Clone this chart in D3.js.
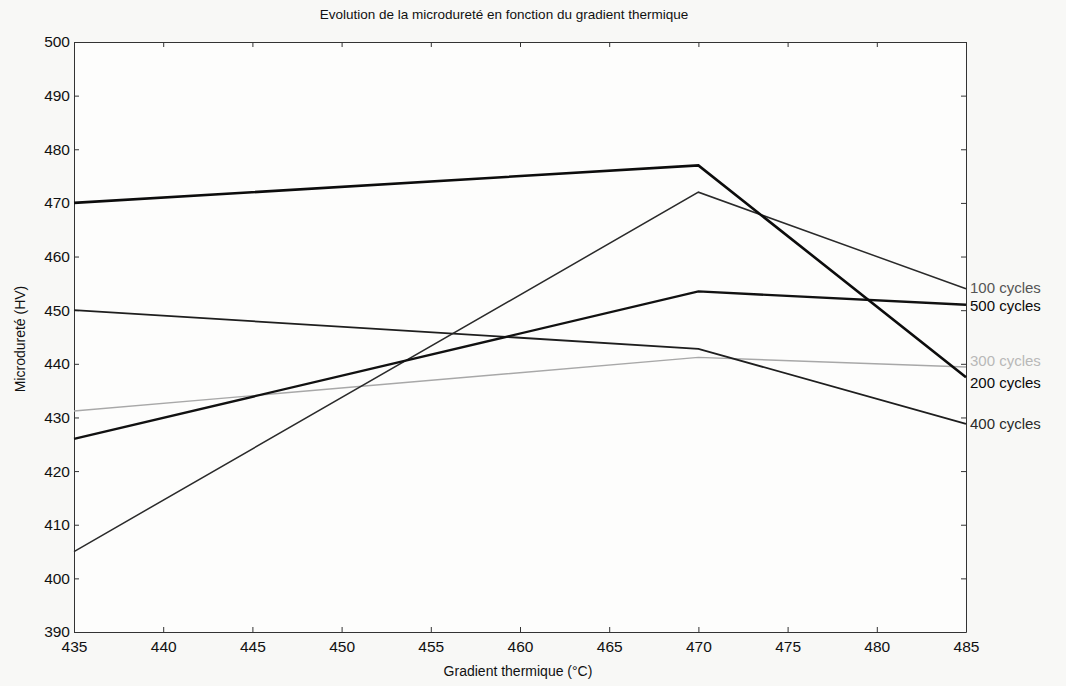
<!DOCTYPE html>
<html>
<head>
<meta charset="utf-8">
<script src="https://cdn.jsdelivr.net/npm/d3@7"></script>
<style>
  body { margin: 0; background: #f8f8f6; }
  svg { display: block; font-family: "Liberation Sans", Arial, sans-serif; }
</style>
</head>
<body>
<div id="graph"></div>
<script>
// gradient values (°C)
var gradients = [435, 470, 485];

// microhardness per cycle count
var c100 = [405, 472, 454];
var c200 = [470, 477, 437.5];
var c300 = [431.2, 441.2, 439.4];
var c400 = [450, 442.8, 428.8];
var c500 = [426, 453.5, 451];

var xTicks = [435, 440, 445, 450, 455, 460, 465, 470, 475, 480, 485];
var yTicks = [390, 400, 410, 420, 430, 440, 450, 460, 470, 480, 490, 500];

var series = [
  { name: "300 cycles", values: c300, color: "#a8a8a8", width: 1.4, label: "#b8b8b8", dy: -6 },
  { name: "400 cycles", values: c400, color: "#1e1e1e", width: 1.8, label: "#2a2a2a", dy: 0 },
  { name: "100 cycles", values: c100, color: "#2a2a2a", width: 1.5, label: "#555555", dy: -1 },
  { name: "500 cycles", values: c500, color: "#111111", width: 2.4, label: "#0a0a0a", dy: 1 },
  { name: "200 cycles", values: c200, color: "#0c0c0c", width: 2.6, label: "#0a0a0a", dy: 6 }
];

var W = 1066, H = 686;
var margin = { top: 42, right: 100, bottom: 54, left: 74 };
var width = W - margin.left - margin.right,
    height = H - margin.top - margin.bottom;

var svg = d3.select('#graph').append('svg')
    .attr('width', W)
    .attr('height', H)
    .style('background', '#f8f8f6');

var g = svg.append('g')
    .attr('transform', 'translate(' + margin.left + ',' + margin.top + ')');

var x = d3.scaleLinear().domain([435, 485]).range([0, width]);
var y = d3.scaleLinear().domain([390, 500]).range([height, 0]);

g.append('rect')
    .attr('width', width).attr('height', height)
    .attr('fill', '#fdfdfc');

// axes, matlab style with inward ticks on all sides
function styleAxis(sel, fs) {
  sel.selectAll('.domain').attr('stroke', '#333').attr('stroke-width', 1);
  sel.selectAll('.tick line').attr('stroke', '#333');
  sel.selectAll('.tick text').attr('fill', '#111').style('font-size', fs + 'px');
}

g.append('g')
    .attr('transform', 'translate(0,' + height + ')')
    .call(d3.axisBottom(x).tickValues(xTicks).tickSizeInner(-5).tickSizeOuter(0).tickPadding(9))
    .call(styleAxis, 15.5);

g.append('g')
    .call(d3.axisTop(x).tickValues(xTicks).tickSizeInner(-5).tickSizeOuter(0).tickFormat(''))
    .call(styleAxis, 15);

g.append('g')
    .call(d3.axisLeft(y).tickValues(yTicks).tickSizeInner(-5).tickSizeOuter(0).tickPadding(4))
    .call(styleAxis, 15.5);

g.append('g')
    .attr('transform', 'translate(' + width + ',0)')
    .call(d3.axisRight(y).tickValues(yTicks).tickSizeInner(-5).tickSizeOuter(0).tickFormat(''))
    .call(styleAxis, 15);

// lines
var line = d3.line()
    .x(function(d, i) { return x(gradients[i]); })
    .y(function(d) { return y(d); });

g.selectAll('path.serie')
    .data(series)
    .enter()
    .append('path')
      .attr('class', 'serie')
      .attr('d', function(d) { return line(d.values); })
      .attr('fill', 'none')
      .attr('stroke', function(d) { return d.color; })
      .attr('stroke-width', function(d) { return d.width; })
      .attr('stroke-linejoin', 'miter');

// labels at the right end
g.selectAll('text.lab')
    .data(series)
    .enter()
    .append('text')
      .attr('class', 'lab')
      .attr('x', width + 4)
      .attr('y', function(d) { return y(d.values[d.values.length - 1]) + d.dy; })
      .attr('dy', '0.35em')
      .style('font-size', '15px')
      .attr('fill', function(d) { return d.label; })
      .text(function(d) { return d.name; });

// title and axis labels
svg.append('text')
    .attr('x', margin.left + width / 2 - 16)
    .attr('y', 19)
    .attr('text-anchor', 'middle')
    .style('font-size', '13.5px')
    .attr('fill', '#111')
    .text('Evolution de la microdureté en fonction du gradient thermique');

svg.append('text')
    .attr('x', margin.left + width / 2 - 2)
    .attr('y', 676)
    .attr('text-anchor', 'middle')
    .style('font-size', '14px')
    .attr('fill', '#111')
    .text('Gradient thermique (°C)');

svg.append('text')
    .attr('transform', 'translate(25,' + (margin.top + height / 2 + 2) + ') rotate(-90)')
    .attr('text-anchor', 'middle')
    .style('font-size', '14px')
    .attr('fill', '#111')
    .text('Microdureté (HV)');
</script>
</body>
</html>
